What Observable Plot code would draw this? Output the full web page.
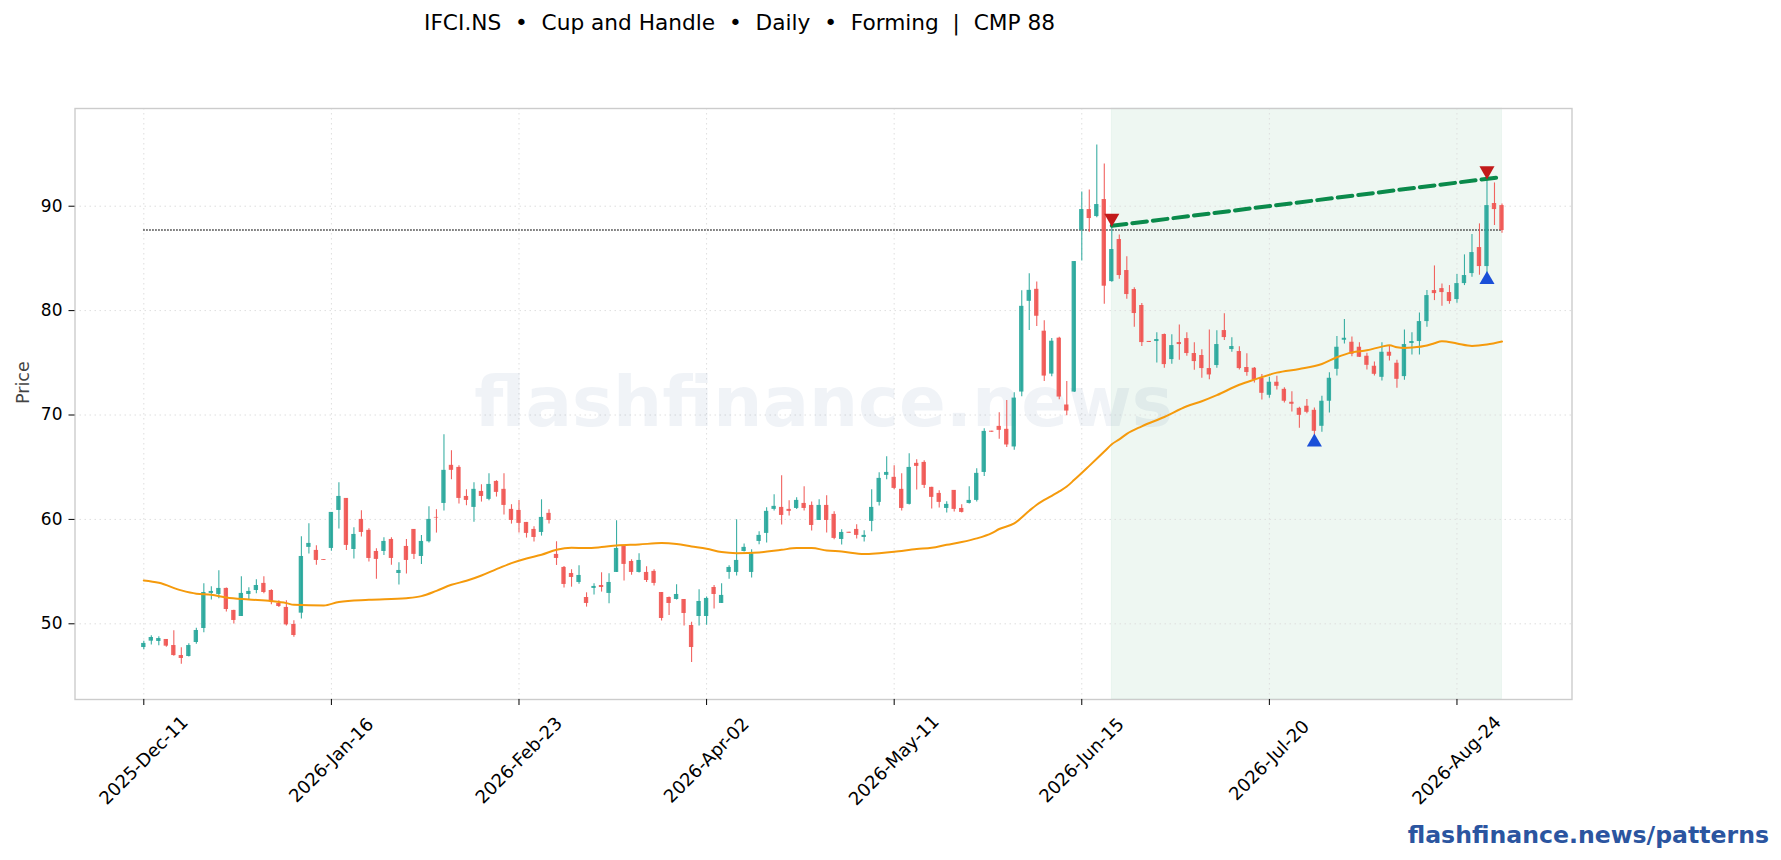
<!DOCTYPE html>
<html><head><meta charset="utf-8">
<script src="https://cdn.jsdelivr.net/npm/d3@7"></script>
<script src="https://cdn.jsdelivr.net/npm/@observablehq/plot@0.6"></script>
<style>
html,body{margin:0;padding:0;background:#fff;overflow:hidden;font-family:"DejaVu Sans",sans-serif}
#title{height:60px;position:relative}
#title span{position:absolute;left:424px;top:8px;font-size:21.68px;line-height:30px;white-space:pre;color:#000}
#chart svg{display:block}
#foot{height:45px;text-align:right;padding-right:12px;box-sizing:border-box;font-weight:bold;font-size:23.6px;line-height:40px;color:#2b55a0}
</style></head><body>
<div id="title"><span>IFCI.NS  •  Cup and Handle  •  Daily  •  Forming  |  CMP 88</span></div>
<div id="chart"></div>
<div id="foot">flashfinance.news/patterns</div>
<script>
const open=[47.73,48.34,48.31,48.50,47.92,46.96,46.87,48.21,49.55,52.91,52.81,53.39,51.28,50.70,52.81,53.19,53.87,53.19,51.95,51.57,49.94,51.02,57.32,57.03,56.16,57.22,60.86,62.01,57.12,60.00,58.95,56.93,56.93,58.08,54.82,57.41,59.04,56.45,57.86,60.19,61.53,65.18,64.98,62.20,61.15,62.68,61.92,63.64,62.88,60.96,60.86,59.71,59.04,58.75,60.58,56.65,55.40,54.82,53.96,52.52,53.39,53.67,52.91,54.92,57.51,55.97,54.92,54.92,55.02,53.00,52.52,52.33,52.33,49.84,50.70,50.70,53.48,51.95,54.92,54.92,56.93,54.92,57.89,58.66,60.96,61.15,60.96,61.05,61.53,61.34,59.90,61.34,60.48,58.08,58.77,59.04,58.27,59.81,61.63,64.22,64.03,62.88,61.44,65.37,65.46,63.07,62.49,61.05,62.78,61.05,61.53,61.82,64.50,68.45,68.91,68.63,66.94,72.20,80.89,82.04,78.03,73.92,77.36,70.96,72.20,87.70,89.68,89.01,90.64,82.78,86.81,83.84,82.02,80.49,77.05,77.04,77.71,75.31,76.94,77.32,75.89,75.70,74.45,74.74,78.09,76.27,76.08,74.55,74.48,73.52,71.89,73.14,72.46,71.22,70.64,70.84,70.45,68.92,71.32,74.38,77.16,76.97,76.49,75.63,74.67,73.61,76.01,74.96,73.68,76.85,77.04,78.95,81.92,82.11,81.73,81.06,82.59,83.55,86.04,84.22,90.26,90.06];
const high=[48.34,48.85,48.75,48.50,49.33,47.70,48.08,49.58,53.83,53.55,55.08,53.42,51.31,54.50,53.45,54.22,54.50,53.26,52.20,52.20,50.29,58.34,59.58,57.48,56.16,60.67,63.51,62.01,59.20,60.83,59.11,57.19,58.24,58.24,55.85,58.08,59.04,58.47,61.21,60.93,68.12,66.58,65.14,62.84,63.51,63.32,64.38,63.71,64.38,61.41,61.82,59.71,59.30,61.88,60.93,57.86,55.50,55.18,55.56,52.97,53.83,54.89,54.79,59.87,57.51,56.13,56.71,55.46,55.18,53.00,52.56,53.74,52.33,50.16,53.26,52.56,53.67,53.83,55.56,59.97,57.64,57.09,58.82,61.12,62.36,64.19,61.79,62.08,63.13,61.66,61.88,62.27,60.73,59.01,58.77,59.49,58.91,62.84,64.47,66.01,65.14,64.38,66.29,65.72,65.62,63.07,62.75,61.69,62.78,61.41,63.13,64.86,68.69,68.45,70.22,71.40,72.13,81.91,83.52,82.75,79.04,77.32,77.45,73.22,84.70,91.37,91.56,95.87,94.05,87.99,87.25,85.15,82.18,80.68,77.05,77.87,77.77,77.68,78.63,77.87,76.91,76.24,78.15,78.06,79.69,77.39,76.53,75.86,74.54,73.87,73.61,73.71,72.62,72.24,70.74,71.48,70.68,71.79,74.06,77.51,79.14,77.48,76.93,75.91,75.08,76.93,76.65,75.24,78.15,77.87,79.78,81.92,84.28,82.56,82.40,83.45,85.34,87.29,88.31,92.52,92.23,90.22];
const low=[47.51,47.96,47.89,47.76,46.90,46.13,46.81,48.05,49.14,52.27,52.40,51.12,49.97,50.70,52.24,52.88,52.88,51.82,51.57,49.78,48.72,50.45,56.68,55.62,56.08,56.96,59.07,57.03,56.20,58.31,55.91,54.28,56.55,55.62,53.71,54.76,56.17,55.69,57.73,58.69,60.80,63.80,61.47,61.31,59.74,61.66,61.79,62.14,60.42,59.55,58.69,58.21,57.83,58.40,59.55,55.59,53.42,53.51,53.80,51.60,52.75,53.04,51.92,54.92,54.09,54.66,54.86,53.96,53.61,50.26,50.80,52.27,49.78,46.29,49.78,49.87,51.41,51.95,54.28,54.57,56.87,54.38,57.57,57.73,60.80,59.46,60.32,60.96,60.80,58.88,59.90,58.69,58.05,57.54,58.67,58.12,57.83,58.82,61.28,63.80,62.84,60.80,61.37,62.81,62.97,60.99,61.09,60.61,60.70,60.61,61.47,61.66,64.12,68.35,67.67,66.88,66.62,71.75,78.09,78.47,73.22,73.66,71.46,69.94,72.15,84.76,87.51,88.90,80.61,82.72,83.01,81.09,78.41,76.56,76.95,74.99,74.48,74.87,75.25,75.63,74.29,73.52,73.37,74.48,77.13,76.02,74.32,73.72,73.07,71.44,71.60,72.40,71.16,70.29,68.73,70.13,68.06,68.35,70.20,73.74,76.81,75.59,75.50,74.32,73.74,73.26,75.18,72.56,73.33,75.76,75.76,78.41,80.96,80.42,80.61,80.71,82.40,83.20,83.39,83.58,88.15,87.41];
const close=[48.12,48.69,48.59,47.86,46.96,46.68,47.92,49.36,53.00,53.10,53.39,51.37,50.32,52.91,53.10,53.67,53.00,52.11,51.66,49.90,48.88,56.45,57.70,56.07,56.08,60.67,62.20,57.51,58.56,58.75,56.26,56.17,57.89,56.26,55.11,56.07,56.65,57.89,60.00,60.13,64.70,64.70,62.01,61.82,62.88,62.20,63.35,62.59,61.34,59.90,59.62,58.66,58.27,60.19,59.90,56.26,53.77,54.44,54.63,51.95,53.58,53.48,53.96,57.22,55.69,54.92,56.07,54.15,53.87,50.51,51.95,52.81,50.99,47.73,52.14,52.43,52.81,52.72,55.40,56.07,57.32,56.71,58.47,60.77,61.25,60.38,60.77,61.82,61.05,59.42,61.34,59.90,58.18,58.75,58.67,58.47,58.47,61.15,63.93,64.50,62.97,61.05,64.98,65.08,63.26,62.11,61.63,61.44,60.96,60.67,61.82,64.41,68.43,68.35,68.53,67.13,71.62,80.41,81.94,79.46,73.73,77.07,71.72,70.38,84.70,89.68,88.82,90.16,82.34,85.85,83.36,81.54,79.72,76.94,76.95,77.23,74.83,76.65,76.75,75.89,75.12,74.45,73.84,76.75,77.42,76.56,74.45,74.07,73.33,72.08,73.14,72.75,71.32,71.03,69.97,70.26,68.44,71.32,73.52,76.49,77.35,75.82,75.53,74.76,73.90,76.01,75.63,73.42,76.75,77.04,78.95,81.44,81.63,81.73,80.87,82.59,83.36,85.56,84.22,90.06,89.68,87.67];
const maIndex=[0,2,5,7,9,11,14,17,19,20,24,26,30,35,37,39,41,43,45,47,49,51,53,55,57,59,61,63,66,69,71,73,75,77,79,82,85,87,89,91,93,96,98,100,103,105,107,109,111,113,114,116,118,119,121,122,123,124,126,128,129,130,131,133,136,139,141,143,146,148,151,154,157,159,161,163,165,166,167,168,169,171,172,173,175,177,179,181];
const maValue=[54.15,53.93,53.2,52.88,52.78,52.52,52.33,52.17,51.98,51.82,51.76,52.1,52.3,52.46,52.65,53.16,53.74,54.12,54.63,55.24,55.81,56.26,56.61,57.09,57.28,57.25,57.35,57.5,57.6,57.73,57.64,57.41,57.19,56.87,56.77,56.84,57.09,57.25,57.25,57.03,56.93,56.68,56.77,56.9,57.16,57.28,57.57,57.83,58.18,58.69,59.08,59.62,60.83,61.4,62.26,62.68,63.15,63.79,65.13,66.5,67.2,67.67,68.2,68.92,69.81,70.84,71.32,71.9,72.9,73.39,74.06,74.41,74.89,75.53,76.0,76.2,76.55,76.68,76.49,76.43,76.46,76.65,76.88,77.07,76.85,76.62,76.75,77.04];
const tickIndex=[0,25,50,75,100,125,150,175];
const tickLabels=["2025-Dec-11","2026-Jan-16","2026-Feb-23","2026-Apr-02","2026-May-11","2026-Jun-15","2026-Jul-20","2026-Aug-24"];
const yTicks=[50,60,70,80,90];
const zoneStart=129, zoneEnd=181;
const neckIndex=[129,181], neckValue=[88.12,92.8];
const cmpLevel=87.72;
const peakIndex=[129,179], peakValue=[88.63,93.16];
const troughIndex=[156,179], troughValue=[67.45,83.01];

const bars=open.map((o,i)=>({i,o,h:high[i],l:low[i],c:close[i],up:close[i]>=o}));
const upC="#26a69a", dnC="#ef5350";
const col=d=>d.up?upC:dnC;
const maData=maIndex.map((i,k)=>({i,v:maValue[k]}));
const neck=neckIndex.map((i,k)=>({i,v:neckValue[k]}));
const peaks=peakIndex.map((i,k)=>({i,v:peakValue[k]}));
const troughs=troughIndex.map((i,k)=>({i,v:troughValue[k]}));

const chart=Plot.plot({
  width:1781,height:755,
  marginLeft:74.5,marginRight:209.5,marginTop:48,marginBottom:116,
  style:{fontFamily:"DejaVu Sans",background:"#fff",overflow:"visible"},
  x:{type:"linear",domain:[-9.17,190.33],label:null},
  y:{type:"linear",domain:[42.75,99.36],label:null},
  marks:[
    Plot.rect([{a:zoneStart,b:zoneEnd}],{x1:"a",x2:"b",fill:"#0a8a4b",fillOpacity:0.07,stroke:"#0a8a4b",strokeOpacity:0.05}),
    Plot.gridX(tickIndex,{x:d=>d,stroke:"#dedede",strokeOpacity:1,strokeWidth:1,strokeDasharray:"1.5,3.5"}),
    Plot.gridY(yTicks,{y:d=>d,stroke:"#dedede",strokeOpacity:1,strokeWidth:1,strokeDasharray:"1.5,3.5"}),
    Plot.text(["flashfinance.news"],{frameAnchor:"middle",fontSize:69,fontWeight:"bold",fill:"#2a5a90",fillOpacity:0.07}),
    Plot.ruleY([cmpLevel],{x1:0,x2:181,stroke:"#111",strokeWidth:1.3,strokeDasharray:"1.3,1.7"}),
    Plot.ruleX(bars,{x:"i",y1:"l",y2:"h",stroke:col,strokeWidth:1.1,strokeOpacity:0.9}),
    Plot.rect(bars,{x1:d=>d.i-0.29,x2:d=>d.i+0.29,y1:d=>Math.min(d.o,d.c),y2:d=>Math.max(d.o,d.c),fill:col,fillOpacity:0.9}),
    Plot.line(maData,{x:"i",y:"v",stroke:"#f59a0c",strokeWidth:2,curve:"monotone-x"}),
    Plot.line(neck,{x:"i",y:"v",stroke:"#0a8a4b",strokeWidth:4,strokeDasharray:"14.7,6"}),
    Plot.dot(peaks,{x:"i",y:"v",symbol:"triangle",r:5.6,rotate:180,dy:-2.5,fill:"#c21a1a",stroke:"none"}),
    Plot.dot(troughs,{x:"i",y:"v",symbol:"triangle",r:5.6,dy:0.5,fill:"#1a4fd8",stroke:"none"}),
    Plot.frame({stroke:"#ccc",strokeWidth:1.4}),
    Plot.axisY({ticks:yTicks,tickSize:6,tickPadding:6.5,fontSize:17,label:null,color:"#000"}),
    Plot.axisX({ticks:tickIndex,tickFormat:i=>tickLabels[tickIndex.indexOf(i)],tickSize:6,tickPadding:55,tickRotate:-45,textAnchor:"middle",fontSize:18,label:null,color:"#000"}),
    Plot.text(["Price"],{frameAnchor:"left",rotate:-90,dx:-52,fontSize:17.5,fill:"#444"})
  ]
});
document.getElementById("chart").appendChild(chart);
</script>
</body></html>
